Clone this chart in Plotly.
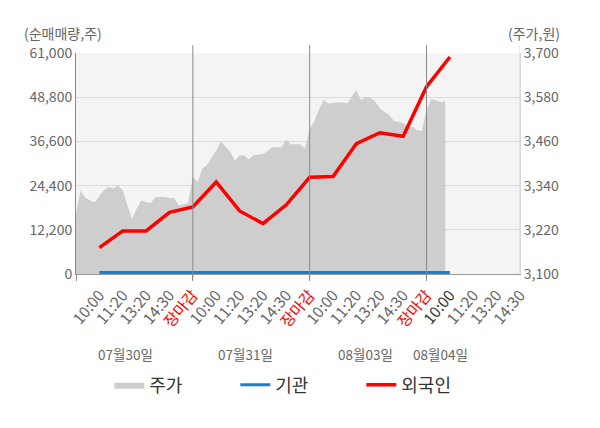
import numpy as np
import plotly.graph_objects as go

# x axis slots: each trading day takes 5 slots (09:00 start .. 장마감)
TICK_LABELS = ['10:00', '11:20', '13:20', '14:30', '장마감',
               '10:00', '11:20', '13:20', '14:30', '장마감',
               '10:00', '11:20', '13:20', '14:30', '장마감',
               '10:00', '11:20', '13:20', '14:30']
DAY_LABELS = ['07월30일', '07월31일', '08월03일', '08월04일']
DAY_LABEL_POS = [2.1, 7.25, 12.4, 15.6]
DAY_BREAKS = [5, 10, 15]

# stock price (원), sampled every 0.2 slot
PRICE_DAY1 = [3265, 3327, 3306, 3300, 3294, 3312, 3328, 3336, 3332, 3340, 3328, 3285, 3250,
              3278, 3300, 3295, 3293, 3309, 3309, 3309, 3306, 3306, 3285, 3288, 3293]
PRICE_DAY2 = [3365, 3350, 3386, 3395, 3416, 3435, 3460, 3445, 3432, 3408, 3422, 3422, 3411,
              3423, 3425, 3426, 3434, 3445, 3444, 3444, 3465, 3452, 3452, 3452, 3441]
PRICE_DAY3 = [3495, 3515, 3547, 3572, 3563, 3564, 3566, 3566, 3562, 3582, 3598, 3572, 3582,
              3578, 3568, 3551, 3540, 3532, 3516, 3513, 3510, 3498, 3500, 3490, 3488]
PRICE_DAY4 = [3545, 3575, 3572, 3567, 3570]

# net buying volume (주) at the labelled slots 1..16
FOREIGN = [7300, 11900, 11900, 17000, 18500, 25400, 17400, 13900,
           19100, 26700, 26900, 36000, 39000, 38000, 51700, 59900]
INSTITUTION = [400, 400, 400, 400, 400, 400, 400, 400,
               400, 400, 400, 400, 400, 400, 400, 400]

LEFT_TICKS = [0, 12200, 24400, 36600, 48800, 61000]
RIGHT_TICKS = [3100, 3220, 3340, 3460, 3580, 3700]

FONT = 'Noto Sans CJK KR'

price_x, price_y = [], []
for d, vals in enumerate([PRICE_DAY1, PRICE_DAY2, PRICE_DAY3, PRICE_DAY4]):
    price_x += list(d * 5 + np.arange(len(vals)) * 0.2)
    price_y += vals

flow_x = list(range(1, len(FOREIGN) + 1))

tick_text = []
for i, t in enumerate(TICK_LABELS):
    if t == '장마감':
        tick_text.append('<span style="color:#ff0000">%s</span>' % t)
    elif i == 15:
        tick_text.append('<span style="color:#333333">%s</span>' % t)
    else:
        tick_text.append(t)

fig = go.Figure()
fig.add_trace(go.Scatter(x=price_x, y=price_y, name='주가', mode='lines', fill='tozeroy',
                         fillcolor='#cecece', line=dict(color='#cecece', width=0), yaxis='y'))
fig.add_trace(go.Scatter(x=flow_x, y=INSTITUTION, name='기관', mode='lines',
                         line=dict(color='#1a7fcf', width=3), yaxis='y2'))
fig.add_trace(go.Scatter(x=flow_x, y=FOREIGN, name='외국인', mode='lines',
                         line=dict(color='#ff0000', width=3.5), yaxis='y2'))

shapes = [dict(type='line', xref='x', yref='paper', x0=b, x1=b, y0=-0.02, y1=1.035,
               line=dict(color='#8a8a8a', width=1), layer='above') for b in DAY_BREAKS]
shapes.append(dict(type='line', xref='x', yref='paper', x0=19, x1=19, y0=0, y1=1.035,
                   line=dict(color='#d8d8d8', width=1), layer='above'))

annotations = [dict(text=t, x=p, xref='x', y=-0.362, yref='paper', yanchor='middle',
                    showarrow=False, font=dict(size=13.5, color='#666666', family=FONT))
               for t, p in zip(DAY_LABELS, DAY_LABEL_POS)]
annotations.append(dict(text='(순매매량,주)', x=-0.122, xref='paper', xanchor='left', y=1.09,
                        yref='paper', yanchor='middle', showarrow=False,
                        font=dict(size=14, color='#666666', family=FONT)))
annotations.append(dict(text='(주가,원)', x=1.095, xref='paper', xanchor='right', y=1.09,
                        yref='paper', yanchor='middle', showarrow=False,
                        font=dict(size=14, color='#666666', family=FONT)))

# the page body adds an 8px offset, so margins are shifted to compensate
fig.update_layout(
    width=600, height=428,
    margin=dict(l=68, r=88, t=45, b=162, autoexpand=False),
    paper_bgcolor='white',
    plot_bgcolor='#f4f4f4',
    font=dict(family=FONT, size=14, color='#666666'),
    xaxis=dict(range=[0, 19], tickvals=list(range(1, 20)), ticktext=tick_text, tickangle=-50,
               showgrid=False, zeroline=False, showline=True, linecolor='#9a9a9a',
               ticks='', ticklabelstandoff=5, tickfont=dict(size=15.5, color='#666666'),
               automargin=False,
               minor=dict(tick0=0, dtick=5, ticks='outside', ticklen=6, tickcolor='#8a8a8a',
                          showgrid=False)),
    yaxis=dict(range=[3100, 3700], tickvals=RIGHT_TICKS, tickformat=',', side='right',
               showgrid=False, zeroline=False, showline=True, linecolor='#d8d8d8',
               ticks='', tickfont=dict(size=14, color='#666666'), automargin=False),
    yaxis2=dict(range=[0, 61000], tickvals=LEFT_TICKS, tickformat=',', side='left',
                overlaying='y', showgrid=True, gridcolor='#dcdcdc', zeroline=False,
                showline=True, linecolor='#8a8a8a', ticks='', automargin=False,
                tickfont=dict(size=14, color='#666666')),
    showlegend=True,
    legend=dict(orientation='h', x=0.075, xanchor='left', y=-0.502, yanchor='middle',
                entrywidth=81, entrywidthmode='pixels',
                font=dict(size=18, color='#333333', family=FONT)),
    shapes=shapes,
    annotations=annotations,
)

fig.write_html("out.html")
